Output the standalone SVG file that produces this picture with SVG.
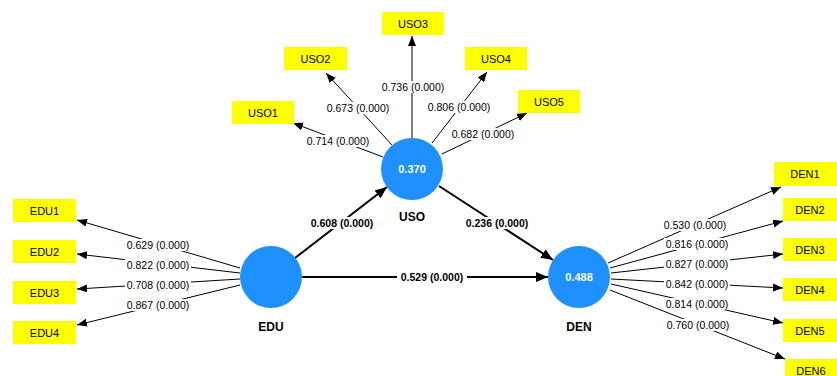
<svg xmlns="http://www.w3.org/2000/svg" width="837" height="376" viewBox="0 0 837 376">
<style>
.box{fill:#ffff00}
.bt{font-family:"Liberation Sans",Arial,sans-serif;font-size:11px;fill:#000;text-anchor:middle;dominant-baseline:central}
.lv{fill:#1e90ff}
.lvv{font-family:"Liberation Sans",Arial,sans-serif;font-size:11px;font-weight:bold;fill:#fff;text-anchor:middle;dominant-baseline:central}
.lvn{font-family:"Liberation Sans",Arial,sans-serif;font-size:12px;font-weight:bold;fill:#000;text-anchor:middle;dominant-baseline:central}
.ind{stroke:#000;stroke-width:1;fill:none;marker-end:url(#a1)}
.str{stroke:#000;stroke-width:2;fill:none;marker-end:url(#a2)}
.bg{fill:#fff}
.lb{font-family:"Liberation Sans",Arial,sans-serif;font-size:10.5px;fill:#000;text-anchor:middle;dominant-baseline:central}
.lbb{font-family:"Liberation Sans",Arial,sans-serif;font-size:10.5px;font-weight:bold;fill:#000;text-anchor:middle;dominant-baseline:central}
</style>
<defs>
<marker id="a1" markerUnits="userSpaceOnUse" markerWidth="12" markerHeight="10" refX="10" refY="4" orient="auto"><path d="M0,0 L10,4 L0,8 Z" fill="#000"/></marker>
<marker id="a2" markerUnits="userSpaceOnUse" markerWidth="14" markerHeight="12" refX="12" refY="5" orient="auto"><path d="M0,0 L12,5 L0,10 Z" fill="#000"/></marker>
</defs>
<rect width="837" height="376" fill="#fff"/>
<g id="connectors">
<line class="ind" x1="240" y1="268" x2="77" y2="220"/>
<line class="ind" x1="240" y1="273" x2="77" y2="254"/>
<line class="ind" x1="240" y1="279" x2="77" y2="289"/>
<line class="ind" x1="240" y1="285" x2="77" y2="325"/>
<line class="ind" x1="383" y1="157" x2="293" y2="123"/>
<line class="ind" x1="392" y1="145" x2="326" y2="73"/>
<line class="ind" x1="412" y1="138" x2="412" y2="36"/>
<line class="ind" x1="432" y1="143" x2="487" y2="72"/>
<line class="ind" x1="442" y1="154" x2="527" y2="113"/>
<line class="ind" x1="608" y1="263" x2="781" y2="187"/>
<line class="ind" x1="610" y1="268" x2="783" y2="221"/>
<line class="ind" x1="611" y1="273" x2="783" y2="254"/>
<line class="ind" x1="611" y1="279" x2="783" y2="288"/>
<line class="ind" x1="611" y1="284" x2="783" y2="323"/>
<line class="ind" x1="610" y1="290" x2="785" y2="359"/>
<line class="str" x1="295" y1="258" x2="387" y2="187"/>
<line class="str" x1="439" y1="186" x2="553" y2="260"/>
<line class="str" x1="302" y1="277" x2="548" y2="277"/>
<rect class="bg" x="125" y="239" width="66" height="12"/><text class="lb" x="158" y="245">0.629 (0.000)</text>
<rect class="bg" x="125" y="259" width="66" height="12"/><text class="lb" x="158" y="265">0.822 (0.000)</text>
<rect class="bg" x="125" y="279" width="66" height="12"/><text class="lb" x="158" y="285">0.708 (0.000)</text>
<rect class="bg" x="125" y="299" width="66" height="12"/><text class="lb" x="158" y="305">0.867 (0.000)</text>
<rect class="bg" x="305" y="135" width="66" height="12"/><text class="lb" x="338" y="141">0.714 (0.000)</text>
<rect class="bg" x="325" y="102" width="66" height="12"/><text class="lb" x="358" y="108">0.673 (0.000)</text>
<rect class="bg" x="380" y="81" width="66" height="12"/><text class="lb" x="413" y="87">0.736 (0.000)</text>
<rect class="bg" x="426" y="101" width="66" height="12"/><text class="lb" x="459" y="107">0.806 (0.000)</text>
<rect class="bg" x="450" y="128" width="66" height="12"/><text class="lb" x="483" y="134">0.682 (0.000)</text>
<rect class="bg" x="662" y="219" width="66" height="12"/><text class="lb" x="695" y="225">0.530 (0.000)</text>
<rect class="bg" x="664" y="238" width="66" height="12"/><text class="lb" x="697" y="244">0.816 (0.000)</text>
<rect class="bg" x="664" y="258" width="66" height="12"/><text class="lb" x="697" y="264">0.827 (0.000)</text>
<rect class="bg" x="664" y="278" width="66" height="12"/><text class="lb" x="697" y="284">0.842 (0.000)</text>
<rect class="bg" x="664" y="298" width="66" height="12"/><text class="lb" x="697" y="304">0.814 (0.000)</text>
<rect class="bg" x="665" y="319" width="66" height="12"/><text class="lb" x="698" y="325">0.760 (0.000)</text>
<rect class="bg" x="308" y="217" width="68" height="12"/><text class="lbb" x="342" y="223">0.608 (0.000)</text>
<rect class="bg" x="463" y="217" width="68" height="12"/><text class="lbb" x="497" y="223">0.236 (0.000)</text>
<rect class="bg" x="397" y="271" width="70" height="12"/><text class="lbb" x="432" y="277">0.529 (0.000)</text>
</g>
<g id="EDU"><circle class="lv" cx="271" cy="277" r="31"/><text class="lvn" x="271" y="327">EDU</text></g>
<g id="USO"><circle class="lv" cx="412" cy="169" r="31"/><text class="lvv" x="412" y="169">0.370</text><text class="lvn" x="412" y="217">USO</text></g>
<g id="DEN"><circle class="lv" cx="579" cy="277" r="31"/><text class="lvv" x="579" y="277">0.488</text><text class="lvn" x="579" y="327">DEN</text></g>
<g id="EDU1"><rect class="box" x="13" y="199" width="63" height="23"/><text class="bt" x="44.5" y="210.5">EDU1</text></g>
<g id="EDU2"><rect class="box" x="13" y="240" width="63" height="23"/><text class="bt" x="44.5" y="251.5">EDU2</text></g>
<g id="EDU3"><rect class="box" x="13" y="281" width="63" height="23"/><text class="bt" x="44.5" y="292.5">EDU3</text></g>
<g id="EDU4"><rect class="box" x="13" y="321" width="63" height="23"/><text class="bt" x="44.5" y="332.5">EDU4</text></g>
<g id="USO1"><rect class="box" x="232" y="101" width="62" height="23"/><text class="bt" x="263" y="112.5">USO1</text></g>
<g id="USO2"><rect class="box" x="284" y="47" width="63" height="23"/><text class="bt" x="315.5" y="58.5">USO2</text></g>
<g id="USO3"><rect class="box" x="382" y="12" width="62" height="23"/><text class="bt" x="413" y="23.5">USO3</text></g>
<g id="USO4"><rect class="box" x="465" y="47" width="62" height="23"/><text class="bt" x="496" y="58.5">USO4</text></g>
<g id="USO5"><rect class="box" x="518" y="90" width="62" height="23"/><text class="bt" x="549" y="101.5">USO5</text></g>
<g id="DEN1"><rect class="box" x="774" y="162" width="63" height="24"/><text class="bt" x="805" y="174">DEN1</text></g>
<g id="DEN2"><rect class="box" x="783" y="198" width="54" height="23"/><text class="bt" x="810" y="209.5">DEN2</text></g>
<g id="DEN3"><rect class="box" x="783" y="238" width="54" height="23"/><text class="bt" x="810" y="249.5">DEN3</text></g>
<g id="DEN4"><rect class="box" x="783" y="278" width="54" height="23"/><text class="bt" x="810" y="289.5">DEN4</text></g>
<g id="DEN5"><rect class="box" x="783" y="319" width="54" height="23"/><text class="bt" x="810" y="330.5">DEN5</text></g>
<g id="DEN6"><rect class="box" x="785" y="359" width="52" height="23"/><text class="bt" x="811" y="370.5">DEN6</text></g>
</svg>
